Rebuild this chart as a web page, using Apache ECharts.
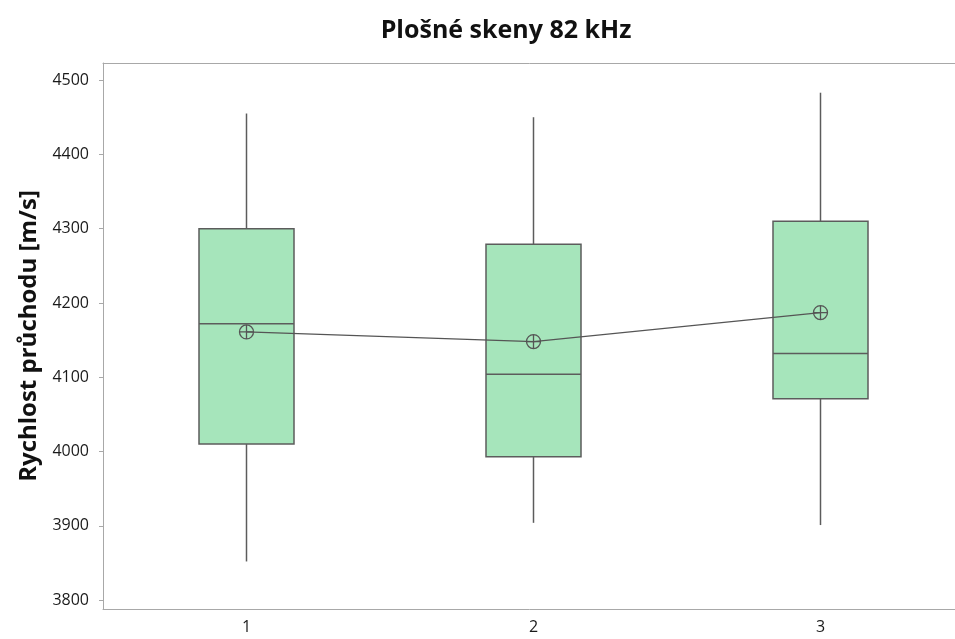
<!DOCTYPE html>
<html>
<head>
<meta charset="utf-8">
<script src="https://cdn.jsdelivr.net/npm/echarts@6/dist/echarts.min.js"></script>
<style>html,body{margin:0;padding:0;background:#fff}#c{width:955px;height:639px}</style>
</head>
<body>
<div id="c"></div>
<script>
const categories = ['1', '2', '3'];
const whiskerLow = [3852, 3904, 3901];
const q1 = [4010, 3993, 4071];
const medians = [4172, 4104, 4132];
const q3 = [4300, 4279, 4310];
const whiskerHigh = [4455, 4450, 4483];
const means = [4161, 4148, 4187];
const yTicks = [3800, 3900, 4000, 4100, 4200, 4300, 4400, 4500];

const boxData = categories.map((c, i) => [i, whiskerLow[i], q1[i], medians[i], q3[i], whiskerHigh[i]]);
const font = '"Open Sans", "Noto Sans", sans-serif';
const meanSymbol = 'path://M0,-10 A10,10 0 1,1 0,10 A10,10 0 1,1 0,-10 Z M-10,0 L10,0 M0,-10 L0,10';
const boxPx = 95;

function renderBox(params, api) {
  const i = api.value(0);
  const pLo = api.coord([i, api.value(1)]);
  const pQ1 = api.coord([i, api.value(2)]);
  const pMed = api.coord([i, api.value(3)]);
  const pQ3 = api.coord([i, api.value(4)]);
  const pHi = api.coord([i, api.value(5)]);
  const x = pLo[0], h = boxPx / 2;
  const stroke = { stroke: '#5c5c5c', lineWidth: 1.5 };
  return {
    type: 'group',
    children: [
      { type: 'line', shape: { x1: x, y1: pHi[1], x2: x, y2: pQ3[1] }, style: stroke },
      { type: 'line', shape: { x1: x, y1: pQ1[1], x2: x, y2: pLo[1] }, style: stroke },
      { type: 'rect', shape: { x: x - h, y: pQ3[1], width: boxPx, height: pQ1[1] - pQ3[1] },
        style: Object.assign({ fill: '#a6e5bb' }, stroke) },
      { type: 'line', shape: { x1: x - h, y1: pMed[1], x2: x + h, y2: pMed[1] }, style: stroke }
    ]
  };
}

const chart = echarts.init(document.getElementById('c'));
chart.setOption({
  animation: false,
  title: {
    text: 'Plošné skeny 82 kHz',
    left: 501, top: 13, textAlign: 'center',
    textStyle: { fontFamily: font, fontSize: 25, fontWeight: 'bold', color: '#111' }
  },
  grid: { left: 103, right: -9, top: 63, bottom: 30, show: false, outerBoundsMode: 'none', containLabel: false },
  xAxis: [{
    type: 'category', data: categories, boundaryGap: true,
    axisLine: { lineStyle: { color: '#a8a8a8' } },
    axisTick: { alignWithLabel: true, length: 4, lineStyle: { color: '#a8a8a8' } },
    axisLabel: { fontFamily: font, fontSize: 16, color: '#1a1a1a', margin: 10 },
    splitLine: { show: false }
  }, {
    type: 'category', data: categories, position: 'top',
    axisLine: { lineStyle: { color: '#a8a8a8' } },
    axisTick: { show: false }, axisLabel: { show: false }, splitLine: { show: false }
  }],
  yAxis: {
    type: 'value', min: 3788, max: 4523,
    name: 'Rychlost průchodu [m/s]', nameLocation: 'middle', nameGap: 62,
    nameTextStyle: { fontFamily: font, fontSize: 24, fontWeight: 'bold', color: '#111' },
    axisLine: { show: true, lineStyle: { color: '#a8a8a8' } },
    axisTick: { show: true, length: 4, customValues: yTicks, lineStyle: { color: '#a8a8a8' } },
    axisLabel: { fontFamily: font, fontSize: 16, color: '#1a1a1a', margin: 14, customValues: yTicks,
      formatter: v => String(v) },
    splitLine: { show: false }
  },
  series: [
    {
      type: 'custom', data: boxData, renderItem: renderBox,
      encode: { x: 0, y: [1, 2, 3, 4, 5] }, silent: true
    },
    {
      type: 'line', data: means, symbol: meanSymbol, symbolSize: 14,
      lineStyle: { color: '#555', width: 1.2 },
      itemStyle: { color: 'rgba(0,0,0,0)', borderColor: '#555', borderWidth: 1.3 },
      z: 5
    }
  ]
});
</script>
</body>
</html>
